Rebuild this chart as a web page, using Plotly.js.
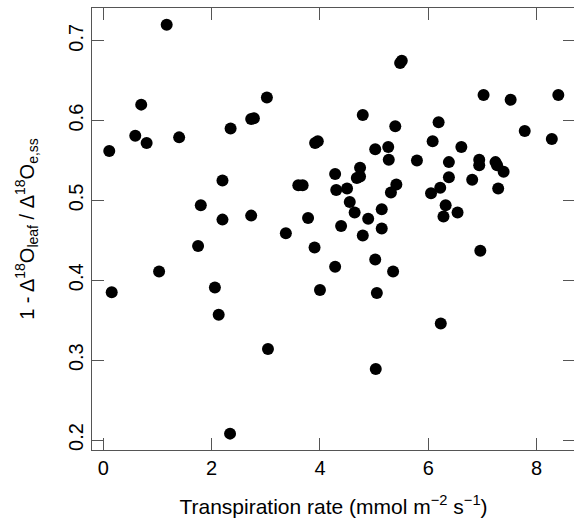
<!DOCTYPE html>
<html>
<head>
<meta charset="utf-8">
<script src="https://cdn.plot.ly/plotly-3.0.1.min.js"></script>
<style>
html, body { margin: 0; padding: 0; overflow: hidden; background: #fff; }
#chart { width: 576px; height: 518px; }
</style>
</head>
<body>
<div id="chart"></div>
<script>
const transpiration = [
  0.11, 0.59, 0.70, 0.80, 1.17, 1.40, 3.02, 2.73, 2.78, 2.35,
  2.20, 1.80, 2.20, 2.73, 3.37, 1.75, 0.155, 1.03, 2.06, 2.13,
  3.04, 2.34, 5.51, 5.48, 4.79, 5.39, 6.19, 7.02, 7.52, 8.40,
  7.78, 8.28, 3.91, 3.96, 5.02, 5.26, 6.08, 6.61, 5.27, 5.79,
  6.38, 6.94, 6.94, 7.24, 7.27, 7.39, 4.74, 4.74, 4.68, 4.28,
  3.60, 3.68, 4.30, 4.50, 5.41, 5.31, 6.38, 6.81, 7.29, 6.05,
  6.22, 4.55, 4.64, 5.14, 4.89, 5.14, 4.39, 4.79, 6.32, 6.54,
  6.28, 3.78, 3.90, 6.96, 4.28, 5.02, 5.35, 4.00, 5.05, 6.23,
  5.03
];
const fraction = [
  0.562, 0.581, 0.620, 0.572, 0.720, 0.579, 0.629, 0.602, 0.603, 0.590,
  0.525, 0.494, 0.476, 0.481, 0.459, 0.443, 0.385, 0.411, 0.391, 0.357,
  0.314, 0.208, 0.675, 0.672, 0.607, 0.593, 0.598, 0.632, 0.626, 0.632,
  0.587, 0.577, 0.572, 0.574, 0.564, 0.567, 0.574, 0.567, 0.551, 0.550,
  0.548, 0.551, 0.544, 0.548, 0.544, 0.536, 0.541, 0.530, 0.528, 0.533,
  0.519, 0.519, 0.513, 0.515, 0.520, 0.510, 0.529, 0.526, 0.515, 0.509,
  0.516, 0.498, 0.485, 0.489, 0.477, 0.465, 0.468, 0.456, 0.494, 0.485,
  0.480, 0.478, 0.441, 0.437, 0.417, 0.426, 0.411, 0.388, 0.384, 0.346,
  0.289
];
const xTicks = [0, 2, 4, 6, 8];
const yTicks = [0.2, 0.3, 0.4, 0.5, 0.6, 0.7];
const yTickLabels = ['0.2', '0.3', '0.4', '0.5', '0.6', '0.7'];

const font = 'Liberation Sans, Arial, sans-serif';
const axisCommon = {
  showgrid: false, zeroline: false, showline: true,
  linecolor: '#555', linewidth: 1,
  ticks: 'inside', ticklen: 12, tickwidth: 1, tickcolor: '#555',
  mirror: 'ticks',
  tickfont: { family: font, size: 20, color: '#000' }
};

Plotly.newPlot('chart', [{
  x: transpiration, y: fraction, type: 'scatter', mode: 'markers',
  marker: { color: '#000', size: 12 },
  hoverinfo: 'none'
}], {
  width: 576, height: 518,
  margin: { l: 92, r: 1, t: 8, b: 68 },
  paper_bgcolor: '#fff', plot_bgcolor: '#fff',
  showlegend: false,
  xaxis: Object.assign({}, axisCommon, {
    range: [-0.2086, 8.708],
    tickvals: xTicks,
    title: { text: 'Transpiration rate (mmol m<sup>\u22122</sup> s<sup>\u22121</sup>)',
             font: { family: font, size: 21, color: '#000' }, standoff: 24 }
  }),
  yaxis: Object.assign({}, axisCommon, {
    range: [0.1875, 0.741],
    tickvals: yTicks, ticktext: yTickLabels,
    tickangle: -90,
    title: { text: '1 - \u0394<sup>18</sup>O<sub>leaf</sub> / \u0394<sup>18</sup>O<sub>e,ss</sub>',
             font: { family: font, size: 20, color: '#000' }, standoff: 25 }
  })
}, { staticPlot: true });
</script>
</body>
</html>
